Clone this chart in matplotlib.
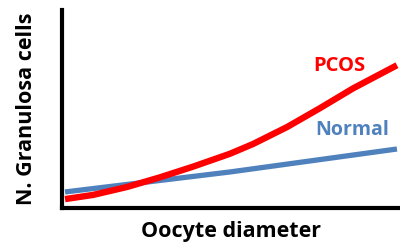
import matplotlib.pyplot as plt

# 讀圖估計的資料 (0~1 相對座標)
pcos_x = [0.009, 0.092, 0.192, 0.290, 0.388, 0.497, 0.565, 0.666, 0.763, 0.861, 0.991]
pcos_y = [0.045, 0.066, 0.106, 0.155, 0.209, 0.274, 0.323, 0.409, 0.504, 0.604, 0.721]
normal_x = [0.009, 0.497, 0.991]
normal_y = [0.081, 0.182, 0.298]

plt.rcParams['font.family'] = ['Open Sans', 'DejaVu Sans']

fig = plt.figure(figsize=(4, 2.5), dpi=100)
ax = fig.add_axes([0.155, 0.168, 0.845, 0.792])

ax.plot(normal_x, normal_y, color='#4F81BD', lw=3.8, solid_capstyle='butt')
ax.plot(pcos_x, pcos_y, color='#FF0000', lw=4.6, solid_capstyle='butt',
        solid_joinstyle='round')

ax.text(0.82, 0.715, "PCOS", color='#FF0000', fontsize=14.5, fontweight='bold',
        ha='center', va='center')
ax.text(0.858, 0.395, "Normal", color='#4F81BD', fontsize=14, fontweight='bold',
        ha='center', va='center')

ax.set_xlim(0, 1)
ax.set_ylim(0, 1)
for s in ['top', 'right']:
    ax.spines[s].set_visible(False)
for s in ['left', 'bottom']:
    ax.spines[s].set_linewidth(3)
ax.set_xticks([])
ax.set_yticks([])

ax.set_xlabel("Oocyte diameter", fontsize=15.5, fontweight='bold', labelpad=9)
ax.set_ylabel("N. Granulosa cells", fontsize=15.5, fontweight='bold', labelpad=18)

fig.savefig("out.png", dpi=100)
